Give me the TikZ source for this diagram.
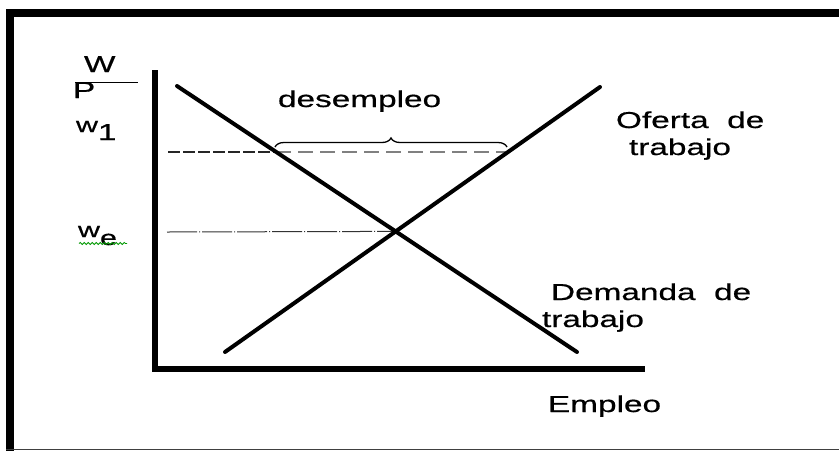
\documentclass[tikz,border=0pt]{standalone}
\usepackage{fontspec}
\setmainfont[FakeStretch=1.45,FakeBold=0.6]{Liberation Sans}
\usetikzlibrary{decorations.pathreplacing,decorations.pathmorphing}
\tikzset{
  lbl/.style={inner sep=0pt, outer sep=0pt, anchor=base west, font=\fontsize{23}{27}\selectfont},
  curve/.style={line width=4pt, line cap=round, black},
  axis/.style={line width=5.5pt, black},
  guide/.style={line width=1.1pt, black!85, dash pattern=on 12pt off 3pt},
  guidegray/.style={line width=2.4pt, black!50, dash pattern=on 15pt off 7pt},
  dashdot/.style={line width=1pt, black!80, dash pattern=on 30pt off 2pt on 1pt off 2pt},
  bracestyle/.style={line width=1.3pt, black, decorate, decoration={brace, amplitude=9pt}},
}
\begin{document}
\begin{tikzpicture}[x=1pt,y=-1pt]
\useasboundingbox (0,0) rectangle (839,451);
\fill[white] (0,0) rectangle (839,451);
% frame
\fill[black] (6,9) rectangle (839,17);
\fill[black] (6,9) rectangle (14,451);
\draw[line width=1.5pt, black!75] (6,449.5) -- (839,449.5);
% coordinates
\coordinate (O) at (155,369);
\coordinate (Ytop) at (155,70);
\coordinate (Xend) at (645,369);
\coordinate (D1) at (177,86);
\coordinate (D2) at (577,352);
\coordinate (S1) at (225,352);
\coordinate (S2) at (600,87);
\coordinate (E) at (395.6,231.4);
\coordinate (W1a) at (168,152);
\coordinate (W1d) at (276,152);
\coordinate (W1s) at (508,152);
\coordinate (Wea) at (167,232);
\coordinate (Bl) at (275,147);
\coordinate (Br) at (507,147);
% guide lines
\draw[guide] (W1a) -- (W1d);
\draw[guidegray] (W1d) -- (W1s);
\draw[dashdot] (Wea) -- (E);
% axes
\draw[axis] (Ytop) -- (O) -- (Xend);
% curves
\draw[curve] (D1) -- (D2);
\draw[curve] (S1) -- (S2);
% brace
\draw[bracestyle] (Bl) -- (Br);
% labels
\node[lbl] (W) at (84,72) {W};
\node[lbl] (P) at (73,98) {P};
\draw[line width=1.3pt] (75,82.3) -- (138,82.3);
\node[lbl, font=\fontsize{21}{24}\selectfont] (w1) at (76,132) {w\raisebox{-8pt}{\fontsize{23}{27}\selectfont 1}};
\node[lbl, font=\fontsize{21}{24}\selectfont] (we) at (78,237) {w\raisebox{-8pt}{e}};
\draw[green!60!black, line width=0.8pt, decorate, decoration={snake, amplitude=1pt, segment length=4pt}] (79,243.5) -- (127,243.5);
\node[lbl] (des) at (278,107) {desempleo};
\node[lbl] (of1) at (616,128) {Oferta\ \ de};
\node[lbl] (of2) at (629,155) {trabajo};
\node[lbl] (dm1) at (551,300) {Demanda\ \ de};
\node[lbl] (dm2) at (542,327) {trabajo};
\node[lbl] (emp) at (548,412) {Empleo};
\end{tikzpicture}
\end{document}
